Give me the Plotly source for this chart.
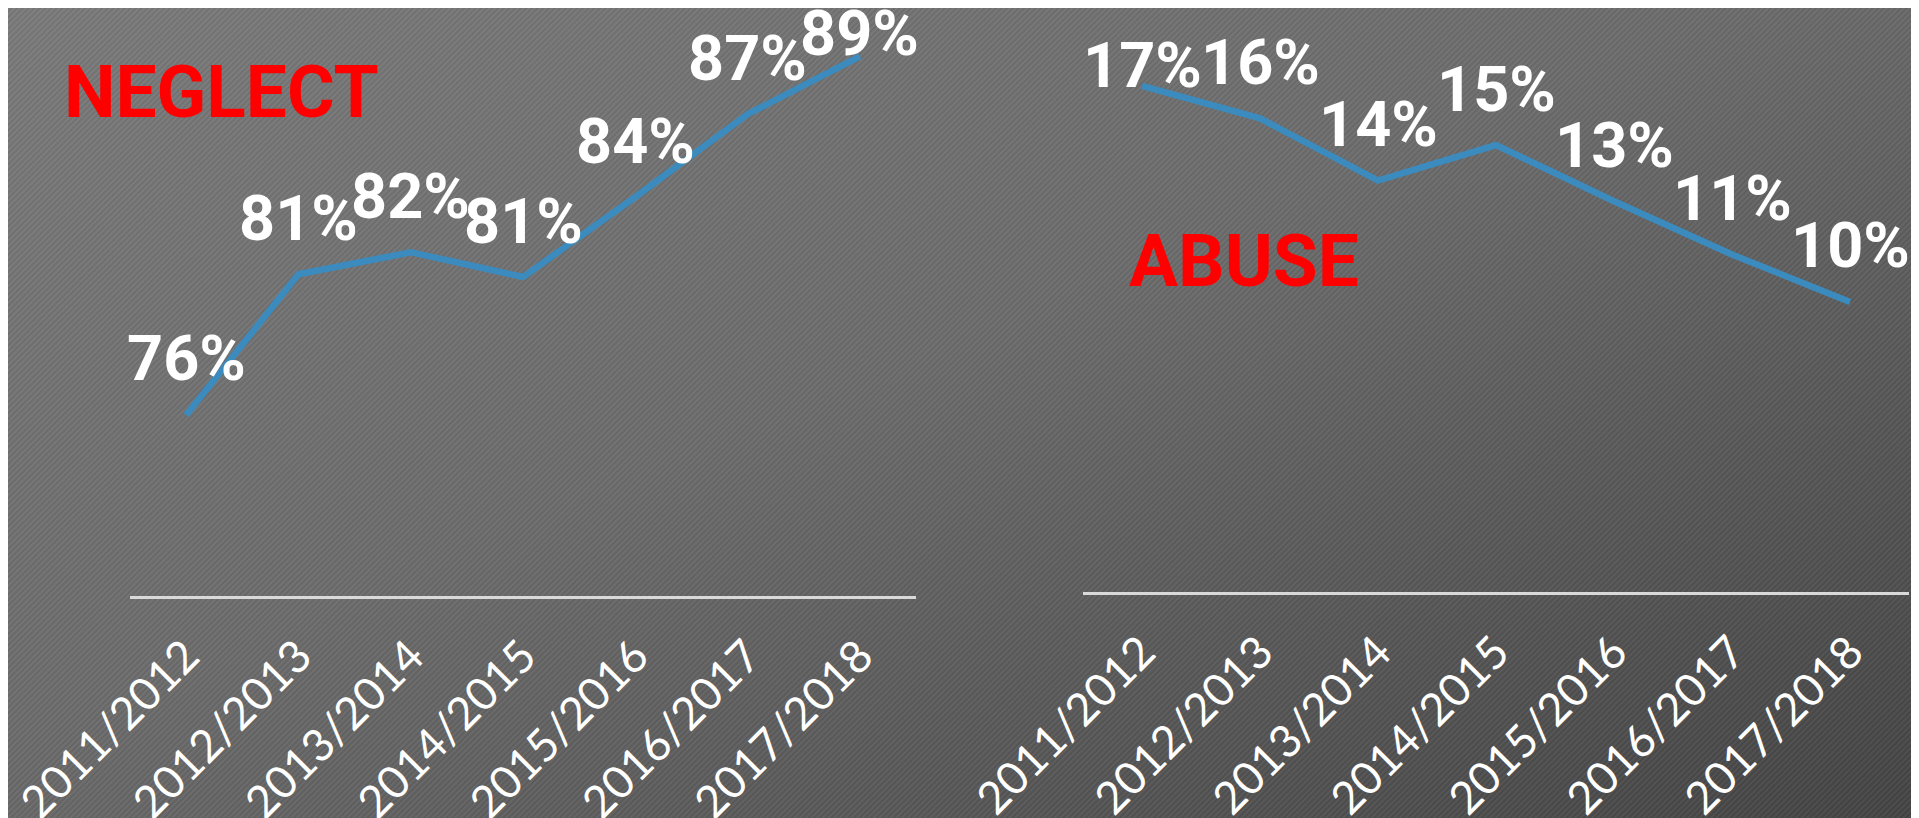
import base64

import plotly.graph_objects as go

# school years shared by both panels
YEARS = ["2011/2012", "2012/2013", "2013/2014", "2014/2015",
         "2015/2016", "2016/2017", "2017/2018"]

# share of cases, in percent
NEGLECT_PCT = [76.0, 81.1, 81.9, 81.0, 83.9, 86.9, 89.0]
ABUSE_PCT = [17.1, 16.0, 13.9, 15.1, 13.2, 11.4, 9.8]

# the page body has an 8px margin, so the figure is drawn 8px in
PAGE_PAD = 8
W, H = 1919 - PAGE_PAD, 818 - PAGE_PAD
LINE_BLUE = "#3B8BBF"
BOLD_FONT = "Roboto, Lato, sans-serif"
TICK_FONT = "Lato, Open Sans, sans-serif"

# pixel lift of each value label above its point (the top ones sit lower)
NEGLECT_LIFT = [56, 56, 56, 56, 56, 56, 23]
ABUSE_LIFT = [20, 56, 56, 56, 56, 56, 56]


def px_x(p):
    """Screen pixel column -> paper x."""
    return (p - PAGE_PAD) / W


def px_y(p):
    """Screen pixel row -> paper y."""
    return 1 - (p - PAGE_PAD) / H


def _background_uri():
    """Grey diagonal gradient with fine '/' stripes, as a data URI."""
    svg = f"""<svg xmlns='http://www.w3.org/2000/svg' width='{W}' height='{H}'>
<defs>
<linearGradient id='g' x1='0' y1='0' x2='1' y2='1'>
<stop offset='0' stop-color='#7a7a7a'/>
<stop offset='0.45' stop-color='#6c6c6c'/>
<stop offset='1' stop-color='#444444'/>
</linearGradient>
<pattern id='p' width='4' height='4' patternUnits='userSpaceOnUse' patternTransform='rotate(45)'>
<rect x='0' y='0' width='1.3' height='4' fill='#ffffff' fill-opacity='0.06'/>
<rect x='2' y='0' width='1.3' height='4' fill='#000000' fill-opacity='0.06'/>
</pattern>
</defs>
<rect width='{W}' height='{H}' fill='url(#g)'/>
<rect width='{W}' height='{H}' fill='url(#p)'/>
</svg>"""
    return "data:image/svg+xml;base64," + base64.b64encode(svg.encode()).decode()


fig = go.Figure()

panels = [
    ("x", "y", NEGLECT_PCT, NEGLECT_LIFT),
    ("x2", "y2", ABUSE_PCT, ABUSE_LIFT),
]
for xa, ya, vals, lifts in panels:
    fig.add_trace(go.Scatter(
        x=YEARS, y=vals, mode="lines", xaxis=xa, yaxis=ya,
        line=dict(color=LINE_BLUE, width=6.5), hoverinfo="skip",
        showlegend=False,
    ))
    for yr, v, lift in zip(YEARS, vals, lifts):
        fig.add_annotation(
            x=yr, y=v, xref=xa, yref=ya, text=f"{round(v)}%",
            showarrow=False, yanchor="middle", yshift=lift,
            font=dict(family=BOLD_FONT, size=63, color="white", weight="bold"),
        )

# panel titles
fig.add_annotation(
    x=px_x(62), y=px_y(92), xref="paper", yref="paper", text="NEGLECT",
    showarrow=False, xanchor="left", yanchor="middle",
    font=dict(family=BOLD_FONT, size=73, color="#FF0000", weight="bold"),
)
fig.add_annotation(
    x=px_x(1127), y=px_y(261), xref="paper", yref="paper", text="ABUSE",
    showarrow=False, xanchor="left", yanchor="middle",
    font=dict(family=BOLD_FONT, size=73, color="#FF0000", weight="bold"),
)

xaxis_style = dict(
    type="category", range=[-0.5, 6.5], showgrid=False, zeroline=False,
    showline=True, linecolor="#D9D9D9", linewidth=2.5, automargin=False,
    ticks="", tickangle=-45, ticklabelstandoff=13,
    tickfont=dict(family=TICK_FONT, size=45, color="white"),
)
yaxis_style = dict(visible=False, showgrid=False, zeroline=False,
                   automargin=False)

fig.update_layout(
    width=W, height=H,
    margin=dict(l=0, r=0, t=0, b=0, pad=0),
    paper_bgcolor="#666666", plot_bgcolor="rgba(0,0,0,0)",
    xaxis=dict(domain=[px_x(130), px_x(916)], anchor="y", **xaxis_style),
    yaxis=dict(domain=[px_y(596), 1], range=[69.44, 90.75], **yaxis_style),
    xaxis2=dict(domain=[px_x(1083), px_x(1909)], anchor="y2", **xaxis_style),
    yaxis2=dict(domain=[px_y(592), 1], range=[0, 19.73], **yaxis_style),
    images=[dict(
        source=_background_uri(), xref="paper", yref="paper",
        x=0, y=1, sizex=1, sizey=1, xanchor="left", yanchor="top",
        sizing="stretch", layer="below",
    )],
)

fig.write_html("out.html")
